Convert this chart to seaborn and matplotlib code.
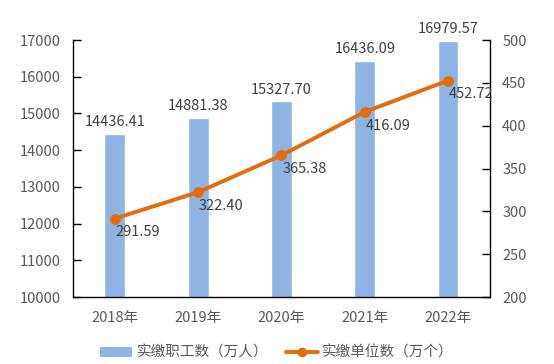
import matplotlib
matplotlib.use("Agg")
import matplotlib.pyplot as plt
import seaborn as sns
import pandas as pd
import numpy as np
from matplotlib.lines import Line2D
from matplotlib.patches import Patch

years = ["2018年", "2019年", "2020年", "2021年", "2022年"]
workers = [14436.41, 14881.38, 15327.70, 16436.09, 16979.57]
units = [291.59, 322.40, 365.38, 416.09, 452.72]
bar_label = "实缴职工数（万人）"
line_label = "实缴单位数（万个）"

sns.set_theme(style="white")
plt.rcParams['font.family'] = ['Noto Sans CJK SC', 'DejaVu Sans']

bar_color = "#8EB4E3"
line_color = "#E46C0A"
txt = "#595959"

df = pd.DataFrame({"year": years, "workers": workers, "units": units})

fig = plt.figure(figsize=(5.54, 3.64), dpi=100)
ax = fig.add_axes([0.132, 0.184, 0.752, 0.706])
sns.barplot(data=df, x="year", y="workers", color=bar_color, width=0.25,
            saturation=1, ax=ax)
ax.set_ylim(10000, 17000)
ax.set_yticks(range(10000, 17001, 1000))
ax.set_xlim(-0.5, 4.5)

ax2 = ax.twinx()
ax2.set_position([0.132, 0.184, 0.752, 0.706])
sns.lineplot(x=np.arange(len(years)), y=units, color=line_color, lw=2.8,
             marker="o", markersize=7, markeredgecolor=line_color, ax=ax2)
ax2.set_ylim(200, 500)
ax2.set_yticks(range(200, 501, 50))

for a in (ax, ax2):
    a.set_xlabel("")
    a.set_ylabel("")
    a.spines["top"].set_visible(False)
    for s in ("left", "right", "bottom"):
        a.spines[s].set_color("black")
        a.spines[s].set_linewidth(1.0)
    a.tick_params(axis="y", colors=txt, labelsize=10.5, direction="in", length=6,
                  width=1, color="black", pad=9)
ax.tick_params(axis="y", labelcolor=txt)
ax.tick_params(axis="x", labelsize=10.5, colors=txt, length=0, pad=10)
ax.spines["right"].set_visible(False)
ax2.spines["left"].set_visible(False)
ax2.spines["bottom"].set_visible(False)
ax.tick_params(axis="y", left=True)
ax2.tick_params(axis="y", right=True)

for i, v in enumerate(workers):
    ax.text(i, v + 130, f"{v:.2f}", ha="center", va="bottom", fontsize=10.5,
            color="#404040")
for i, v in enumerate(units):
    ax2.text(i + 0.01, v - 8, f"{v:.2f}", ha="left", va="top", fontsize=10.5,
             color="#404040")

handles = [Patch(facecolor=bar_color, edgecolor="none"),
           Line2D([0], [0], color=line_color, lw=2.8, marker="o", markersize=6)]
fig.legend(handles, [bar_label, line_label], loc="lower center",
           bbox_to_anchor=(0.5, -0.025), ncol=2, frameon=False, fontsize=10.5,
           labelcolor=txt, handlelength=2.2, columnspacing=1.2, handletextpad=0.3)

fig.savefig("out.png", dpi=100)
